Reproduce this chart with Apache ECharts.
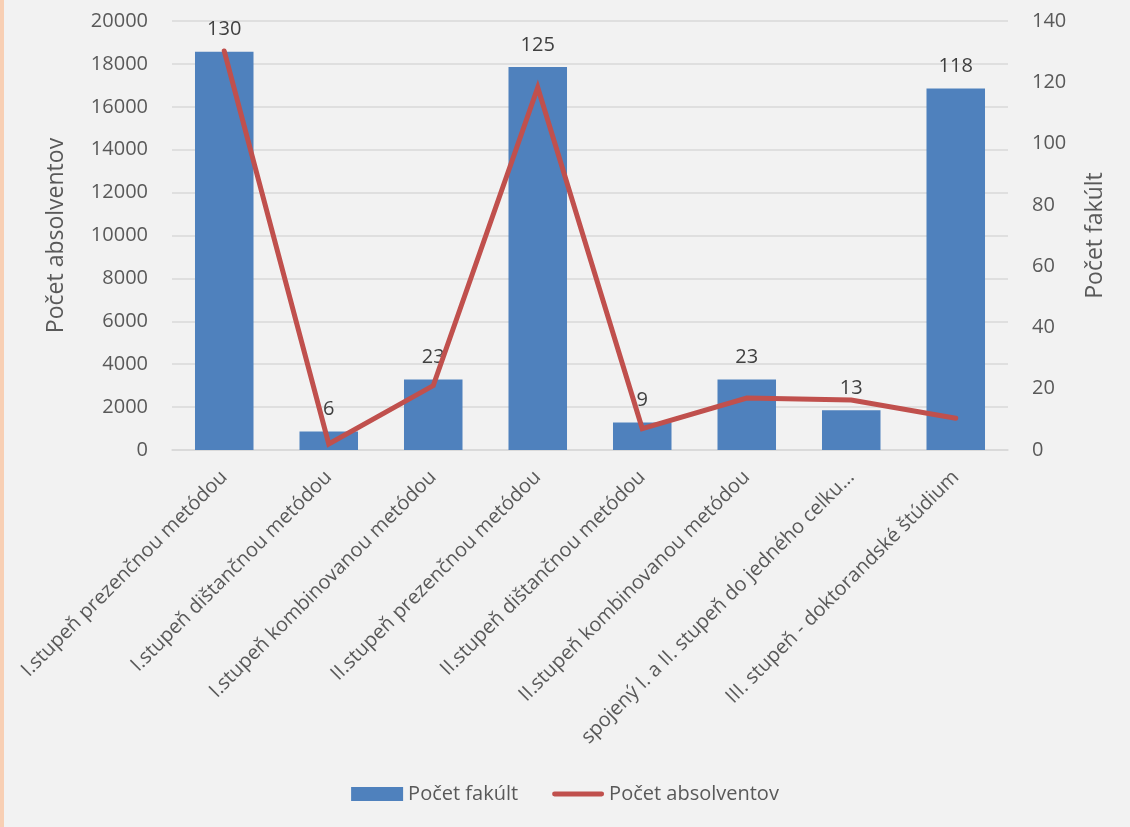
<!DOCTYPE html>
<html>
<head>
<meta charset="utf-8">
<script src="https://cdn.jsdelivr.net/npm/echarts@6/dist/echarts.min.js"></script>
<style>
html,body{margin:0;padding:0;background:#f2f2f2;}
#stripe{position:absolute;left:0;top:0;width:4px;height:827px;background:#f8cfb4;z-index:2;}
#chart{width:1130px;height:827px;}
</style>
</head>
<body>
<div id="stripe"></div>
<div id="chart"></div>
<script>
const categories = [
  'I.stupeň prezenčnou metódou',
  'I.stupeň dištančnou metódou',
  'I.stupeň kombinovanou metódou',
  'II.stupeň prezenčnou metódou',
  'II.stupeň dištančnou metódou',
  'II.stupeň kombinovanou metódou',
  'spojený I. a II. stupeň do jedného celku...',
  'III. stupeň - doktorandské štúdium'
];
const pocetFakult = [130, 6, 23, 125, 9, 23, 13, 118];
const pocetAbsolventov = [18600, 280, 3000, 16900, 1000, 2420, 2330, 1480];

const FONT = '"Open Sans", "Noto Sans", sans-serif';
const chart = echarts.init(document.getElementById('chart'), null, {renderer: 'canvas'});
chart.setOption({
  backgroundColor: '#f2f2f2',
  textStyle: {fontFamily: FONT},
  animation: false,
  grid: {left: 172, right: 122, top: 21, bottom: 377, containLabel: false},
  legend: {
    bottom: 18,
    left: 'center',
    itemGap: 34,
    itemWidth: 52,
    itemHeight: 14,
    textStyle: {fontSize: 20, color: '#595959', fontFamily: FONT},
    data: [
      {name: 'Počet fakúlt', icon: 'rect'},
      {name: 'Počet absolventov', icon: 'path://M2,0L50,0A2.5,2.5,0,0,1,50,5L2,5A2.5,2.5,0,0,1,2,0Z'}
    ]
  },
  xAxis: {
    type: 'category',
    data: categories,
    axisLine: {show: true, lineStyle: {color: '#d9d9d9', width: 1.5}},
    axisTick: {show: false},
    axisLabel: {rotate: 45, interval: 0, fontSize: 20, color: '#595959', fontFamily: FONT, margin: 24}
  },
  yAxis: [
    {
      type: 'value', min: 0, max: 20000, interval: 2000,
      name: 'Počet absolventov', nameLocation: 'middle', nameGap: 104,
      nameTextStyle: {fontSize: 23, color: '#595959', fontFamily: FONT},
      axisLine: {show: false}, axisTick: {show: false},
      axisLabel: {fontSize: 20, color: '#595959', fontFamily: FONT, margin: 24, formatter: v => String(v)},
      splitLine: {lineStyle: {color: '#d9d9d9', width: 1.5}}
    },
    {
      type: 'value', min: 0, max: 140, interval: 20,
      name: 'Počet fakúlt', nameLocation: 'middle', nameGap: 76,
      nameTextStyle: {fontSize: 23, color: '#595959', fontFamily: FONT},
      axisLine: {show: false}, axisTick: {show: false},
      axisLabel: {fontSize: 20, color: '#595959', fontFamily: FONT, margin: 24},
      splitLine: {show: false}
    }
  ],
  series: [
    {
      name: 'Počet fakúlt',
      type: 'bar',
      yAxisIndex: 1,
      data: pocetFakult,
      barWidth: '56%',
      itemStyle: {color: '#4f81bd'},
      label: {show: true, position: 'top', distance: 12, fontSize: 20, color: '#404040', fontFamily: FONT},
      z: 2
    },
    {
      name: 'Počet absolventov',
      type: 'line',
      yAxisIndex: 0,
      data: pocetAbsolventov,
      symbol: 'none',
      lineStyle: {color: '#c0504d', width: 5, cap: 'round', join: 'miter'},
      itemStyle: {color: '#c0504d'},
      z: 3
    }
  ]
});
</script>
</body>
</html>
